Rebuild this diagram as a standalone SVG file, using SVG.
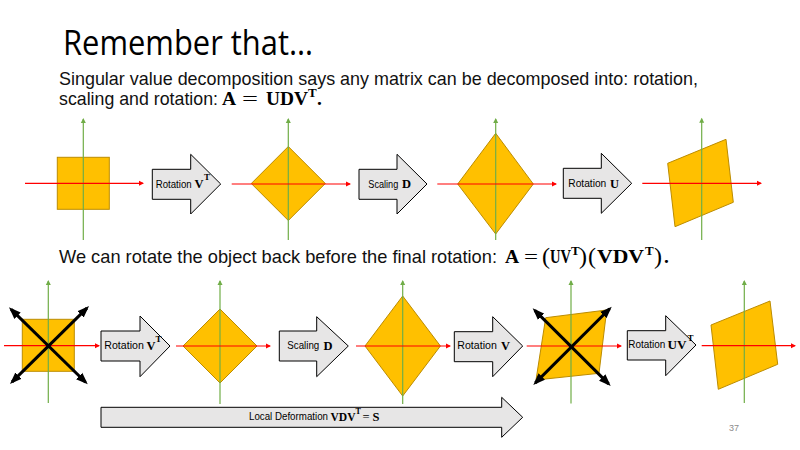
<svg xmlns="http://www.w3.org/2000/svg" width="800" height="450" viewBox="0 0 800 450">
<defs>
<marker id="mg" markerUnits="userSpaceOnUse" markerWidth="6" markerHeight="6" refX="4" refY="2.5" orient="auto" viewBox="0 0 6 5"><path d="M0,0 L5,2.5 L0,5 Z" fill="#70AD47"/></marker>
<marker id="mr" markerUnits="userSpaceOnUse" markerWidth="6" markerHeight="6" refX="4" refY="2.5" orient="auto" viewBox="0 0 6 5"><path d="M0,0 L5,2.5 L0,5 Z" fill="#FF0000"/></marker>
<marker id="mb" markerUnits="userSpaceOnUse" markerWidth="13" markerHeight="10" refX="9" refY="4.5" orient="auto-start-reverse" viewBox="0 0 13 9"><path d="M0,0 L12,4.5 L0,9 Z" fill="#000"/></marker>
</defs>
<style>
.shape{fill:#FFC000;stroke:#BC8C00;stroke-width:1}
.ag{stroke:#70AD47;stroke-width:1.2;fill:none;marker-end:url(#mg)}
.ar{stroke:#FF0000;stroke-width:1.2;fill:none;marker-end:url(#mr)}
.bk{stroke:#000;stroke-width:3;fill:none;marker-start:url(#mb);marker-end:url(#mb)}
.blk{fill:#E7E6E6;stroke:#000;stroke-width:1}
.title{font-family:"Open Sans","Liberation Sans",sans-serif;font-size:34px;fill:#000}
.body{font-family:"Liberation Sans",Arial,sans-serif;font-size:19px;fill:#111}
.m{font-family:"Liberation Serif","Times New Roman",serif;font-weight:bold;font-size:19.5px;fill:#000}
.sup{font-family:"Liberation Serif","Times New Roman",serif;font-weight:bold;font-size:13px;fill:#000}
.mr{font-family:"Liberation Serif","Times New Roman",serif;font-size:19.5px;fill:#000}
.par{font-family:"Liberation Serif","Times New Roman",serif;font-size:24px;fill:#000}
.lab{font-family:"Liberation Sans",Arial,sans-serif;font-size:10.5px;fill:#000}
.lm{font-family:"Liberation Serif","Times New Roman",serif;font-weight:bold;font-size:12.5px;fill:#000}
.ls{font-family:"Liberation Serif","Times New Roman",serif;font-weight:bold;font-size:9px;fill:#000}
.pg{font-family:"Liberation Sans",Arial,sans-serif;font-size:9px;fill:#8B8B8B}
</style>

<g id="title">
<text class="title" x="63" y="55" textLength="250" lengthAdjust="spacingAndGlyphs">Remember that…</text>
</g>
<g id="text-svd">
<text class="body" x="59" y="85" textLength="639" lengthAdjust="spacingAndGlyphs">Singular  value decomposition says any matrix can be decomposed into: rotation,</text>
<text class="body" x="59" y="105" textLength="159" lengthAdjust="spacingAndGlyphs">scaling and rotation:</text>
<text class="m" x="222" y="105">A</text>
<text class="mr" x="242" y="105" textLength="16" lengthAdjust="spacingAndGlyphs">=</text>
<text class="m" x="266" y="105" textLength="42" lengthAdjust="spacingAndGlyphs">UDV</text>
<text class="sup" x="308" y="97">T</text>
<text class="m" x="317" y="105">.</text>
</g>
<g id="text-back">
<text class="body" x="59" y="263" textLength="438" lengthAdjust="spacingAndGlyphs">We can rotate the object back before the final rotation:</text>
<text class="m" x="505" y="263">A</text>
<text class="mr" x="524" y="263" textLength="14" lengthAdjust="spacingAndGlyphs">=</text>
<text class="par" x="542" y="264">(</text>
<text class="m" x="550" y="263" textLength="21" lengthAdjust="spacingAndGlyphs">UV</text>
<text class="sup" x="571" y="255">T</text>
<text class="par" x="579" y="264">)</text>
<text class="par" x="588" y="264">(</text>
<text class="m" x="597" y="263" textLength="47" lengthAdjust="spacingAndGlyphs">VDV</text>
<text class="sup" x="645" y="255">T</text>
<text class="par" x="654" y="264">)</text>
<text class="m" x="664" y="263">.</text>
</g>

<!-- top row -->
<g id="t-shape1"><rect class="shape" x="57.3" y="157.3" width="52" height="52"/></g>
<g id="t-shape2"><polygon class="shape" points="288.3,146.5 325.3,183.5 288.3,220.5 251.3,183.5"/></g>
<g id="t-shape3"><polygon class="shape" points="495.7,133.3 533.3,184 495.7,234 457.7,184"/></g>
<g id="t-shape4"><polygon class="shape" points="667.7,163.3 726,139.3 733.3,202.3 675,226.7"/></g>

<g id="t-op1"><path class="blk" d="M152.3,169.3 H190.7 V154.3 L220.7,184 L190.7,214 V199.3 H152.3 Z"/>
<text class="lab" x="155.7" y="187.5" textLength="36" lengthAdjust="spacingAndGlyphs">Rotation</text><text class="lm" x="194.5" y="188">V</text><text class="ls" x="204" y="180">T</text></g>
<g id="t-op2"><path class="blk" d="M359,169.3 H397 V154.3 L427,184 L397,214 V199.3 H359 Z"/>
<text class="lab" x="368.3" y="187.5" textLength="30" lengthAdjust="spacingAndGlyphs">Scaling</text><text class="lm" x="402" y="188">D</text></g>
<g id="t-op3"><path class="blk" d="M563.3,168.3 H601.3 V153.3 L631.7,183.3 L601.3,213.3 V198.3 H563.3 Z"/>
<text class="lab" x="568.3" y="187" textLength="38" lengthAdjust="spacingAndGlyphs">Rotation</text><text class="lm" x="610" y="187.5">U</text></g>

<!-- bottom row -->
<g id="b-shape1"><rect class="shape" x="22.3" y="319.3" width="52" height="52"/></g>
<g id="b-shape2"><polygon class="shape" points="220,309 257,346 220,383 183,346"/></g>
<g id="b-shape3"><polygon class="shape" points="402.7,296 440.4,346 402.7,396 365,346"/></g>
<g id="b-shape4"><polygon class="shape" points="545.7,317.7 606.7,310 599,373.3 536,380"/></g>
<g id="b-shape5"><polygon class="shape" points="711,325 770,301 777.7,364.3 718.3,389.3"/></g>

<g id="b-op1"><path class="blk" d="M101,331 H140 V316 L170,346 L140,376.7 V361 H101 Z"/>
<text class="lab" x="104.3" y="349.3" textLength="39.5" lengthAdjust="spacingAndGlyphs">Rotation</text><text class="lm" x="146.5" y="350">V</text><text class="ls" x="155.5" y="342">T</text></g>
<g id="b-op2"><path class="blk" d="M279.3,331 H316.7 V316.7 L348.3,346 L316.7,376.7 V361 H279.3 Z"/>
<text class="lab" x="287.3" y="349.3" textLength="32" lengthAdjust="spacingAndGlyphs">Scaling</text><text class="lm" x="323.5" y="350">D</text></g>
<g id="b-op3"><path class="blk" d="M454.3,331.7 H492.7 V316.7 L522.7,346 L492.7,376.7 V361.7 H454.3 Z"/>
<text class="lab" x="457.3" y="349.3" textLength="39.5" lengthAdjust="spacingAndGlyphs">Rotation</text><text class="lm" x="501" y="350">V</text></g>
<g id="b-op4"><path class="blk" d="M627.3,330.7 H665.7 V315.7 L696,345 L665.7,375.7 V360 H627.3 Z"/>
<text class="lab" x="628.3" y="348.3" textLength="37" lengthAdjust="spacingAndGlyphs">Rotation</text><text class="lm" x="667.5" y="349" textLength="19" lengthAdjust="spacingAndGlyphs">UV</text><text class="ls" x="687.5" y="341">T</text></g>

<g id="b-local"><path class="blk" d="M101,407.3 H501.7 V397.3 L522.7,417.3 L501.7,437.3 V427.3 H101 Z"/>
<text class="lab" x="249" y="420" textLength="79" lengthAdjust="spacingAndGlyphs">Local Deformation</text><text class="lm" x="330.5" y="420.5" textLength="25" lengthAdjust="spacingAndGlyphs">VDV</text><text class="ls" x="355.5" y="413.5" style="font-size:8px">T</text><text x="362.5" y="420.5" font-family="Liberation Serif, serif" font-size="12.5">=</text><text class="lm" x="372.5" y="420.5">S</text></g>

<g id="connectors">
<line class="ag" x1="83.3" y1="240" x2="83.3" y2="119"/>
<line class="ar" x1="25" y1="183.3" x2="143" y2="183.3"/>
<line class="ag" x1="288.3" y1="240" x2="288.3" y2="119"/>
<line class="ar" x1="231.7" y1="184" x2="350" y2="184"/>
<line class="ag" x1="495.7" y1="240" x2="495.7" y2="119"/>
<line class="ar" x1="437.3" y1="184" x2="556" y2="184"/>
<line class="ag" x1="701.7" y1="240" x2="701.7" y2="118.7"/>
<line class="ar" x1="642.3" y1="183.3" x2="761" y2="183.3"/>

<line class="ag" x1="48.3" y1="403" x2="48.3" y2="281"/>
<line class="ar" x1="4" y1="345.7" x2="99" y2="345.7"/>
<line class="ag" x1="220" y1="404" x2="220" y2="281"/>
<line class="ar" x1="176" y1="346" x2="270" y2="346"/>
<line class="ag" x1="402.7" y1="404" x2="402.7" y2="281"/>
<line class="ar" x1="356" y1="346" x2="450" y2="346"/>
<line class="ag" x1="571" y1="403.5" x2="571" y2="281"/>
<line class="ar" x1="526.7" y1="346" x2="621" y2="346"/>
<line class="ag" x1="744.3" y1="403" x2="744.3" y2="281"/>
<line class="ar" x1="701.7" y1="345.7" x2="795" y2="345.7"/>

<line class="bk" x1="11.1" y1="309.4" x2="85.6" y2="382.2"/>
<line class="bk" x1="12.1" y1="381.9" x2="86.9" y2="308.1"/>
<line class="bk" x1="534.8" y1="310.4" x2="608.6" y2="383.9"/>
<line class="bk" x1="535.4" y1="382.9" x2="609.6" y2="308.8"/>
</g>

<g id="page"><text class="pg" x="729" y="431">37</text></g>
</svg>
